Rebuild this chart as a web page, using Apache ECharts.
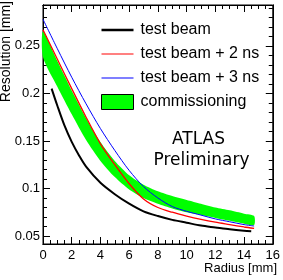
<!DOCTYPE html>
<html>
<head>
<meta charset="utf-8">
<script src="https://cdn.jsdelivr.net/npm/echarts@6/dist/echarts.min.js"></script>
<style>
html,body{margin:0;padding:0;background:#fff;}
#c{width:283px;height:280px;}
</style>
</head>
<body>
<div id="c"></div>
<script>
// ---- data ----
const seriesNames = ['test beam', 'test beam + 2 ns', 'test beam + 3 ns', 'commissioning'];

const beamX = [0.6, 1, 1.5, 2, 2.5, 3, 4, 5, 6, 7, 8, 9, 10, 11, 12, 13, 14, 14.5];
const beamY = [0.205, 0.187, 0.166, 0.149, 0.135, 0.123, 0.106, 0.094, 0.084, 0.076, 0.071, 0.067, 0.064, 0.061, 0.059, 0.057, 0.0555, 0.055];

const curveX = [0, 1, 2, 3, 4, 5, 6, 7, 8, 9, 10, 11, 12, 13, 14, 14.7];
const beam2nsY = [0.267, 0.236, 0.205, 0.175, 0.147, 0.125, 0.105, 0.089, 0.080, 0.075, 0.071, 0.0675, 0.0645, 0.062, 0.0595, 0.058];
const beam3nsY = [0.278, 0.247, 0.217, 0.189, 0.163, 0.140, 0.119, 0.102, 0.090, 0.081, 0.076, 0.072, 0.068, 0.065, 0.062, 0.0605];

const commX = [0, 1, 2, 3, 4, 5, 6, 7, 8, 9, 10, 11, 12, 13, 14, 14.7];
const commUpper = [0.265, 0.234, 0.203, 0.174, 0.149, 0.129, 0.114, 0.104, 0.097, 0.092, 0.088, 0.084, 0.080, 0.077, 0.0735, 0.071];
const commLower = [0.238, 0.207, 0.178, 0.151, 0.129, 0.112, 0.099, 0.090, 0.084, 0.079, 0.075, 0.072, 0.069, 0.066, 0.063, 0.0615];

const xTickLabels = [0, 2, 4, 6, 8, 10, 12, 14, 16];
const yTickLabels = [0.05, 0.1, 0.15, 0.2, 0.25];
const xTitle = 'Radius [mm]';
const yTitle = 'Resolution [mm]';

// ---- chart ----
const X_MIN = 0, X_MAX = 16, Y_MIN = 0.0416, Y_MAX = 0.293;
const xMinor = []; for (let v = 0; v <= 16.0001; v += 0.5) xMinor.push(+v.toFixed(2));
const yMinor = []; for (let k = 5; k <= 29; k++) yMinor.push(+(k / 100).toFixed(2));

const FONT = 'Liberation Sans, Arial, Helvetica, sans-serif';

function xAx(pos, vals, len, labels) {
  return {
    type: 'value', position: pos, min: X_MIN, max: X_MAX, gridIndex: 0,
    axisLine: {show: true, onZero: false, lineStyle: {color: '#000', width: 1}},
    splitLine: {show: false},
    axisTick: {show: true, inside: true, length: len, customValues: vals, lineStyle: {color: '#000', width: 1}},
    axisLabel: labels ? {show: true, customValues: vals, color: '#000', fontFamily: FONT, fontSize: 13, margin: 5,
      formatter: v => String(v)} : {show: false}
  };
}
function yAx(pos, vals, len, labels) {
  return {
    type: 'value', position: pos, min: Y_MIN, max: Y_MAX, gridIndex: 0,
    axisLine: {show: true, onZero: false, lineStyle: {color: '#000', width: 1}},
    splitLine: {show: false},
    axisTick: {show: true, inside: true, length: len, customValues: vals, lineStyle: {color: '#000', width: 1}},
    axisLabel: labels ? {show: true, customValues: vals, color: '#000', fontFamily: FONT, fontSize: 13, margin: 3,
      formatter: v => String(+v.toFixed(2))} : {show: false}
  };
}

const chart = echarts.init(document.getElementById('c'), null, {renderer: 'canvas'});
chart.setOption({
  animation: false,
  backgroundColor: '#fff',
  grid: {left: 43, right: 8, top: 5, bottom: 36, show: true, borderColor: '#000', borderWidth: 1, backgroundColor: 'transparent'},
  xAxis: [
    xAx('bottom', xTickLabels, 7, true),
    xAx('bottom', xMinor, 4, false),
    xAx('top', xTickLabels, 7, false),
    xAx('top', xMinor, 4, false)
  ],
  yAxis: [
    yAx('left', yTickLabels, 7, true),
    yAx('left', yMinor, 4, false),
    yAx('right', yTickLabels, 7, false),
    yAx('right', yMinor, 4, false)
  ],
  legend: {
    orient: 'vertical', left: 96, top: 17, itemWidth: 32, itemHeight: 15, itemGap: 8,
    symbolKeepAspect: true,
    textStyle: {color: '#000', fontFamily: FONT, fontSize: 16, padding: [0, 0, 0, 2]},
    data: [
      {name: seriesNames[0], icon: 'path://M0,0H32V2.5H0Z', itemStyle: {color: '#000'}},
      {name: seriesNames[1], icon: 'path://M0,0H32V2H0Z', itemStyle: {color: '#ff8080'}},
      {name: seriesNames[2], icon: 'path://M0,0H32V1.2H0Z', itemStyle: {color: '#0000ff'}},
      {name: seriesNames[3], icon: 'rect', itemStyle: {color: '#00ff00', borderColor: '#000', borderWidth: 1}}
    ],
    selectedMode: false
  },
  graphic: [
    {type: 'text', x: 6, y: 1, rotation: Math.PI / 2,
      style: {text: yTitle, fill: '#000', font: '14px ' + FONT, textAlign: 'right', textVerticalAlign: 'middle'}},
    {type: 'text', x: 277, y: 268,
      style: {text: xTitle, fill: '#000', font: '13px ' + FONT, textAlign: 'right', textVerticalAlign: 'middle'}},
    {type: 'text', x: 198.5, y: 139.5,
      style: {text: 'ATLAS', fill: '#000', font: '17px DejaVu Sans', textAlign: 'center', textVerticalAlign: 'middle'}},
    {type: 'text', x: 201.5, y: 161,
      style: {text: 'Preliminary', fill: '#000', font: '17px DejaVu Sans', textAlign: 'center', textVerticalAlign: 'middle'}}
  ],
  series: [
    {
      name: seriesNames[3], type: 'custom', xAxisIndex: 0, yAxisIndex: 0, z: 1,
      itemStyle: {color: '#00ff00'},
      data: [[commX[0], commUpper[0]]],
      renderItem: function (params, api) {
        const pts = [];
        for (let i = 0; i < commX.length; i++) pts.push(api.coord([commX[i], commUpper[i]]));
        for (let i = commX.length - 1; i >= 0; i--) pts.push(api.coord([commX[i], commLower[i]]));
        return {type: 'polygon', shape: {points: pts, smooth: 0.25}, style: {fill: '#00ff00', stroke: null}};
      }
    },
    {
      name: seriesNames[0], type: 'line', xAxisIndex: 0, yAxisIndex: 0, z: 3,
      data: beamX.map((x, i) => [x, beamY[i]]), showSymbol: false, symbol: 'none', smooth: 0.3,
      itemStyle: {color: '#000'}, lineStyle: {color: '#000', width: 2}
    },
    {
      name: seriesNames[1], type: 'line', xAxisIndex: 0, yAxisIndex: 0, z: 3,
      data: curveX.map((x, i) => [x, beam2nsY[i]]), showSymbol: false, symbol: 'none', smooth: 0.3,
      itemStyle: {color: '#ff0000'}, lineStyle: {color: '#ff0000', width: 1.3}
    },
    {
      name: seriesNames[2], type: 'line', xAxisIndex: 0, yAxisIndex: 0, z: 4,
      data: curveX.map((x, i) => [x, beam3nsY[i]]), showSymbol: false, symbol: 'none', smooth: 0.3,
      itemStyle: {color: '#0000ff'}, lineStyle: {color: '#0000ff', width: 1}
    }
  ]
});
</script>
</body>
</html>
